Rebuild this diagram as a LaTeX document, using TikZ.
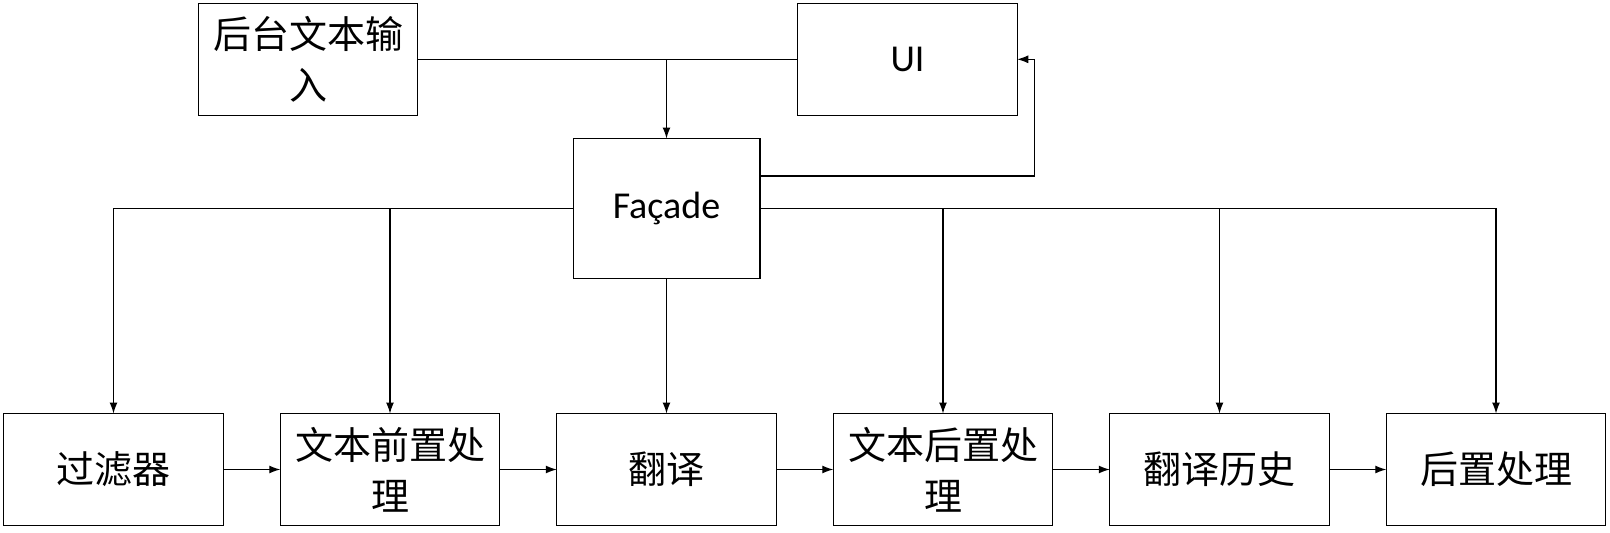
\documentclass[tikz,border=0pt]{standalone}
\usepackage{fontspec}
\setmainfont{Carlito}
\newfontfamily\cjk{Noto Sans CJK SC}
\usetikzlibrary{arrows.meta,positioning}

\begin{document}
\begin{tikzpicture}[
  x=1pt, y=-1pt,
  node distance=57pt,
  box/.style={draw, line width=1.3pt, align=center, outer sep=0pt, inner sep=0pt, minimum width=219.5pt, minimum height=112pt, font=\fontsize{38}{51}\selectfont\cjk},
  edge/.style={-{Latex[length=11pt,width=8pt]}, line width=1.1pt},
  link/.style={line width=1.1pt}
]
  \useasboundingbox (0,0) rectangle (1610,533);
  % bottom row
  \node[box] (filter) at (113.5,469.5) {过滤器};
  \node[box, right=of filter] (pre) {文本前置处\\理};
  \node[box, right=of pre] (trans) {翻译};
  \node[box, right=of trans] (post) {文本后置处\\理};
  \node[box, right=of post] (hist) {翻译历史};
  \node[box, right=of hist] (final) {后置处理};
  % top
  \node[box, minimum width=186.7pt, minimum height=140pt, font=\fontsize{38}{46}\selectfont, above=135pt of trans] (facade) {Façade};
  \node[box] (input) at (308,59.3) {后台文本输\\入};
  \node[box, font=\fontsize{38}{46}\selectfont] (ui) at (907.5,59.3) {UI};
  \coordinate (back) at (1034.6,176);

  \draw[link] (input.east) -- (ui.west);
  \draw[edge] (input.east -| facade.north) -- (facade.north);
  \draw[edge] (facade.east |- back) -- (back) -- (back |- ui.east) -- (ui.east);
  \draw[edge] (facade.west) -| (filter.north);
  \draw[edge] (facade.west) -| (pre.north);
  \draw[edge] (facade.south) -- (trans.north);
  \draw[edge] (facade.east) -| (post.north);
  \draw[edge] (facade.east) -| (hist.north);
  \draw[edge] (facade.east) -| (final.north);
  \foreach \a/\b in {filter/pre, pre/trans, trans/post, post/hist, hist/final}
    \draw[edge] (\a) -- (\b);
\end{tikzpicture}
\end{document}
